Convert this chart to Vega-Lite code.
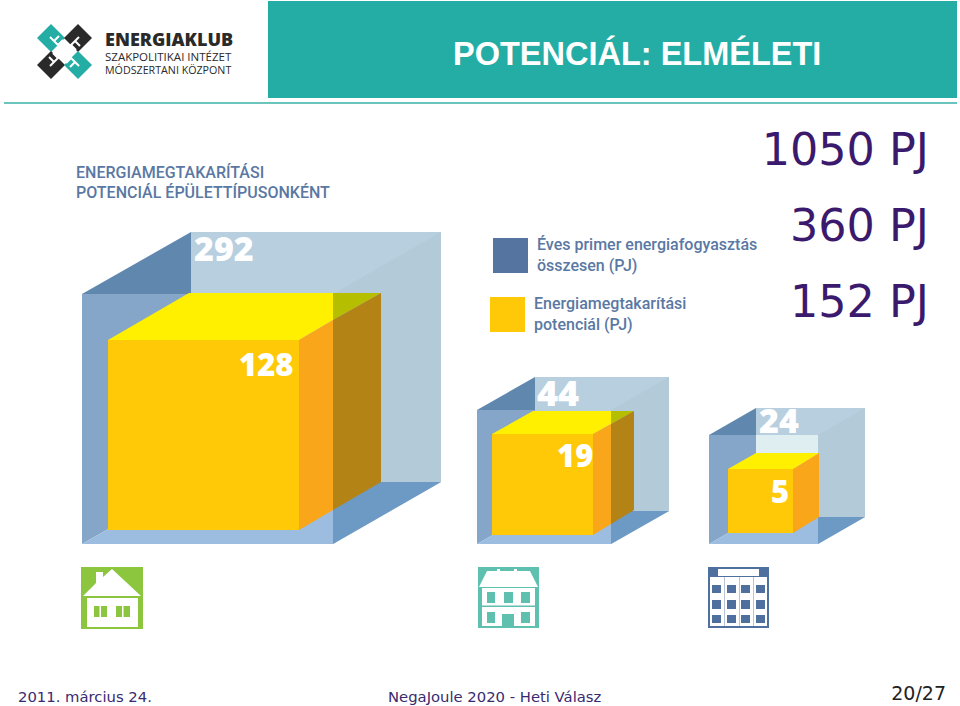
{"$schema":"https://vega.github.io/schema/vega-lite/v6.json","width":960,"height":706,"padding":0,"autosize":{"type":"fit","contains":"padding"},"background":"#ffffff","view":{"stroke":null},
"datasets":{
"under":[
{"part":"band","x":268,"x2":957,"y":1,"y2":98},
{"part":"rule","x":4,"x2":957,"y":102,"y2":104},
{"part":"green","x":81,"x2":143,"y":567,"y2":629},
{"part":"teal","x":478,"x2":539,"y":567,"y2":628},
{"part":"navy","x":708,"x2":769,"y":567,"y2":628}
],
"cuts":[
{"s":"a1","part":"white","i":0,"x":50,"y":37},{"s":"a1","part":"white","i":1,"x":62,"y":49},
{"s":"a2","part":"white","i":0,"x":54,"y":41},{"s":"a2","part":"white","i":1,"x":59,"y":36},
{"s":"a3","part":"white","i":0,"x":58,"y":45},{"s":"a3","part":"white","i":1,"x":63,"y":40},
{"s":"b1","part":"white","i":0,"x":79,"y":37},{"s":"b1","part":"white","i":1,"x":67,"y":49},
{"s":"b2","part":"white","i":0,"x":75,"y":41},{"s":"b2","part":"white","i":1,"x":80,"y":46},
{"s":"b3","part":"white","i":0,"x":71,"y":45},{"s":"b3","part":"white","i":1,"x":76,"y":50},
{"s":"c1","part":"white","i":0,"x":79,"y":66},{"s":"c1","part":"white","i":1,"x":67,"y":54},
{"s":"c2","part":"white","i":0,"x":75,"y":62},{"s":"c2","part":"white","i":1,"x":70,"y":67},
{"s":"c3","part":"white","i":0,"x":71,"y":58},{"s":"c3","part":"white","i":1,"x":66,"y":63},
{"s":"d1","part":"white","i":0,"x":50,"y":66},{"s":"d1","part":"white","i":1,"x":62,"y":54},
{"s":"d2","part":"white","i":0,"x":54,"y":62},{"s":"d2","part":"white","i":1,"x":49,"y":57},
{"s":"d3","part":"white","i":0,"x":58,"y":58},{"s":"d3","part":"white","i":1,"x":53,"y":53}
],
"poly":[
{"s":"l1","part":"band","i":0,"x":37,"y":38},{"s":"l1","part":"band","i":1,"x":51,"y":24},{"s":"l1","part":"band","i":2,"x":65,"y":38},{"s":"l1","part":"band","i":3,"x":51,"y":52},
{"s":"l2","part":"ink","i":0,"x":64,"y":38},{"s":"l2","part":"ink","i":1,"x":78,"y":24},{"s":"l2","part":"ink","i":2,"x":92,"y":38},{"s":"l2","part":"ink","i":3,"x":78,"y":52},
{"s":"l3","part":"ink","i":0,"x":37,"y":65},{"s":"l3","part":"ink","i":1,"x":51,"y":51},{"s":"l3","part":"ink","i":2,"x":65,"y":65},{"s":"l3","part":"ink","i":3,"x":51,"y":79},
{"s":"l4","part":"band","i":0,"x":64,"y":65},{"s":"l4","part":"band","i":1,"x":78,"y":51},{"s":"l4","part":"band","i":2,"x":92,"y":65},{"s":"l4","part":"band","i":3,"x":78,"y":79},

{"s":"b1","part":"back","i":0,"x":191,"y":232},{"s":"b1","part":"back","i":1,"x":441,"y":232},{"s":"b1","part":"back","i":2,"x":441,"y":482},{"s":"b1","part":"back","i":3,"x":191,"y":482},
{"s":"b2","part":"side","i":0,"x":333,"y":294},{"s":"b2","part":"side","i":1,"x":441,"y":232},{"s":"b2","part":"side","i":2,"x":441,"y":482},{"s":"b2","part":"side","i":3,"x":333,"y":544},
{"s":"b3","part":"dark","i":0,"x":82,"y":294},{"s":"b3","part":"dark","i":1,"x":191,"y":232},{"s":"b3","part":"dark","i":2,"x":191,"y":294},
{"s":"b4","part":"left","i":0,"x":82,"y":294},{"s":"b4","part":"left","i":1,"x":191,"y":294},{"s":"b4","part":"left","i":2,"x":191,"y":482},{"s":"b4","part":"left","i":3,"x":82,"y":544},
{"s":"b5","part":"floor","i":0,"x":82,"y":544},{"s":"b5","part":"floor","i":1,"x":191,"y":482},{"s":"b5","part":"floor","i":2,"x":333,"y":482},{"s":"b5","part":"floor","i":3,"x":333,"y":544},
{"s":"b6","part":"floorR","i":0,"x":333,"y":544},{"s":"b6","part":"floorR","i":1,"x":333,"y":482},{"s":"b6","part":"floorR","i":2,"x":441,"y":482},
{"s":"b7","part":"front","i":0,"x":108,"y":340},{"s":"b7","part":"front","i":1,"x":299,"y":340},{"s":"b7","part":"front","i":2,"x":299,"y":530},{"s":"b7","part":"front","i":3,"x":108,"y":530},
{"s":"b8","part":"top","i":0,"x":108,"y":340},{"s":"b8","part":"top","i":1,"x":189,"y":293},{"s":"b8","part":"top","i":2,"x":333,"y":293},{"s":"b8","part":"top","i":3,"x":333,"y":320},{"s":"b8","part":"top","i":4,"x":299,"y":340},
{"s":"b9","part":"olive","i":0,"x":333,"y":293},{"s":"b9","part":"olive","i":1,"x":381,"y":293},{"s":"b9","part":"olive","i":2,"x":333,"y":320},
{"s":"b10","part":"orange","i":0,"x":299,"y":340},{"s":"b10","part":"orange","i":1,"x":333,"y":320},{"s":"b10","part":"orange","i":2,"x":333,"y":510},{"s":"b10","part":"orange","i":3,"x":299,"y":530},
{"s":"b11","part":"brown","i":0,"x":333,"y":320},{"s":"b11","part":"brown","i":1,"x":381,"y":293},{"s":"b11","part":"brown","i":2,"x":381,"y":482},{"s":"b11","part":"brown","i":3,"x":333,"y":510},

{"s":"m1","part":"back","i":0,"x":535,"y":377},{"s":"m1","part":"back","i":1,"x":669,"y":377},{"s":"m1","part":"back","i":2,"x":669,"y":511},{"s":"m1","part":"back","i":3,"x":535,"y":511},
{"s":"m2","part":"side","i":0,"x":611,"y":410},{"s":"m2","part":"side","i":1,"x":669,"y":377},{"s":"m2","part":"side","i":2,"x":669,"y":511},{"s":"m2","part":"side","i":3,"x":611,"y":544},
{"s":"m3","part":"dark","i":0,"x":477,"y":410},{"s":"m3","part":"dark","i":1,"x":535,"y":377},{"s":"m3","part":"dark","i":2,"x":535,"y":410},
{"s":"m4","part":"left","i":0,"x":477,"y":410},{"s":"m4","part":"left","i":1,"x":535,"y":410},{"s":"m4","part":"left","i":2,"x":535,"y":511},{"s":"m4","part":"left","i":3,"x":477,"y":544},
{"s":"m5","part":"floor","i":0,"x":477,"y":544},{"s":"m5","part":"floor","i":1,"x":535,"y":511},{"s":"m5","part":"floor","i":2,"x":611,"y":511},{"s":"m5","part":"floor","i":3,"x":611,"y":544},
{"s":"m6","part":"floorR","i":0,"x":611,"y":544},{"s":"m6","part":"floorR","i":1,"x":611,"y":511},{"s":"m6","part":"floorR","i":2,"x":669,"y":511},
{"s":"m7","part":"front","i":0,"x":492,"y":434},{"s":"m7","part":"front","i":1,"x":593,"y":434},{"s":"m7","part":"front","i":2,"x":593,"y":535},{"s":"m7","part":"front","i":3,"x":492,"y":535},
{"s":"m8","part":"top","i":0,"x":492,"y":434},{"s":"m8","part":"top","i":1,"x":533,"y":411},{"s":"m8","part":"top","i":2,"x":611,"y":411},{"s":"m8","part":"top","i":3,"x":611,"y":424},{"s":"m8","part":"top","i":4,"x":593,"y":434},
{"s":"m9","part":"olive","i":0,"x":611,"y":411},{"s":"m9","part":"olive","i":1,"x":634,"y":411},{"s":"m9","part":"olive","i":2,"x":611,"y":424},
{"s":"m10","part":"orange","i":0,"x":593,"y":434},{"s":"m10","part":"orange","i":1,"x":611,"y":424},{"s":"m10","part":"orange","i":2,"x":611,"y":524},{"s":"m10","part":"orange","i":3,"x":593,"y":535},
{"s":"m11","part":"brown","i":0,"x":611,"y":424},{"s":"m11","part":"brown","i":1,"x":634,"y":411},{"s":"m11","part":"brown","i":2,"x":634,"y":510},{"s":"m11","part":"brown","i":3,"x":611,"y":524},

{"s":"k1","part":"back","i":0,"x":756,"y":408},{"s":"k1","part":"back","i":1,"x":865,"y":408},{"s":"k1","part":"back","i":2,"x":865,"y":517},{"s":"k1","part":"back","i":3,"x":756,"y":517},
{"s":"k2","part":"side","i":0,"x":818,"y":435},{"s":"k2","part":"side","i":1,"x":865,"y":408},{"s":"k2","part":"side","i":2,"x":865,"y":517},{"s":"k2","part":"side","i":3,"x":818,"y":544},
{"s":"k3","part":"dark","i":0,"x":709,"y":435},{"s":"k3","part":"dark","i":1,"x":756,"y":408},{"s":"k3","part":"dark","i":2,"x":756,"y":435},
{"s":"k4","part":"left","i":0,"x":709,"y":435},{"s":"k4","part":"left","i":1,"x":756,"y":435},{"s":"k4","part":"left","i":2,"x":756,"y":517},{"s":"k4","part":"left","i":3,"x":709,"y":544},
{"s":"k5","part":"floor","i":0,"x":709,"y":544},{"s":"k5","part":"floor","i":1,"x":756,"y":517},{"s":"k5","part":"floor","i":2,"x":818,"y":517},{"s":"k5","part":"floor","i":3,"x":818,"y":544},
{"s":"k6","part":"floorR","i":0,"x":818,"y":544},{"s":"k6","part":"floorR","i":1,"x":818,"y":517},{"s":"k6","part":"floorR","i":2,"x":865,"y":517},
{"s":"k12","part":"pale","i":0,"x":756,"y":435},{"s":"k12","part":"pale","i":1,"x":818,"y":435},{"s":"k12","part":"pale","i":2,"x":818,"y":517},{"s":"k12","part":"pale","i":3,"x":756,"y":517},
{"s":"k7","part":"front","i":0,"x":728,"y":469},{"s":"k7","part":"front","i":1,"x":793,"y":469},{"s":"k7","part":"front","i":2,"x":793,"y":533},{"s":"k7","part":"front","i":3,"x":728,"y":533},
{"s":"k8","part":"top","i":0,"x":728,"y":469},{"s":"k8","part":"top","i":1,"x":756,"y":453},{"s":"k8","part":"top","i":2,"x":819,"y":453},{"s":"k8","part":"top","i":3,"x":793,"y":469},
{"s":"k10","part":"orange","i":0,"x":793,"y":469},{"s":"k10","part":"orange","i":1,"x":819,"y":453},{"s":"k10","part":"orange","i":2,"x":819,"y":517},{"s":"k10","part":"orange","i":3,"x":793,"y":533},

{"s":"h1","part":"paper","i":0,"x":83,"y":596},{"s":"h1","part":"paper","i":1,"x":96,"y":583},{"s":"h1","part":"paper","i":2,"x":96,"y":572},{"s":"h1","part":"paper","i":3,"x":103,"y":572},{"s":"h1","part":"paper","i":4,"x":103,"y":577},{"s":"h1","part":"paper","i":5,"x":112,"y":569},{"s":"h1","part":"paper","i":6,"x":141,"y":596},
{"s":"h2","part":"paper","i":0,"x":479,"y":587},{"s":"h2","part":"paper","i":1,"x":487,"y":571},{"s":"h2","part":"paper","i":2,"x":497,"y":571},{"s":"h2","part":"paper","i":3,"x":497,"y":569},{"s":"h2","part":"paper","i":4,"x":500,"y":569},{"s":"h2","part":"paper","i":5,"x":500,"y":571},{"s":"h2","part":"paper","i":6,"x":514,"y":571},{"s":"h2","part":"paper","i":7,"x":514,"y":569},{"s":"h2","part":"paper","i":8,"x":517,"y":569},{"s":"h2","part":"paper","i":9,"x":517,"y":571},{"s":"h2","part":"paper","i":10,"x":530,"y":571},{"s":"h2","part":"paper","i":11,"x":538,"y":587}
],
"over":[
{"part":"navyleg","x":493,"x2":528,"y":238,"y2":273},
{"part":"front","x":490,"x2":525,"y":297,"y2":332},
{"part":"paper","x":87,"x2":138,"y":598,"y2":627},
{"part":"green","x":94,"x2":99.5,"y":606,"y2":617},{"part":"green","x":101,"x2":107,"y":606,"y2":617},
{"part":"green","x":116,"x2":122,"y":606,"y2":617},{"part":"green","x":123.5,"x2":130,"y":606,"y2":617},
{"part":"paper","x":482,"x2":535,"y":588,"y2":626},
{"part":"teal","x":482,"x2":535,"y":605.5,"y2":607},
{"part":"teal","x":487,"x2":495,"y":592,"y2":603},{"part":"teal","x":504,"x2":513,"y":592,"y2":603},{"part":"teal","x":521,"x2":530,"y":592,"y2":603},
{"part":"teal","x":487,"x2":495,"y":612,"y2":623},{"part":"teal","x":521,"x2":530,"y":612,"y2":623},{"part":"teal","x":502,"x2":514,"y":614,"y2":628},
{"part":"paper","x":710,"x2":767,"y":577,"y2":626},
{"part":"paper","x":718,"x2":759,"y":569,"y2":576},
{"part":"line","x":724,"x2":725,"y":577,"y2":626},{"part":"line","x":739,"x2":740,"y":577,"y2":626},{"part":"line","x":753,"x2":754,"y":577,"y2":626},
{"part":"navy","x":712,"x2":721,"y":585,"y2":593},{"part":"navy","x":727,"x2":736,"y":585,"y2":593},{"part":"navy","x":741,"x2":750,"y":585,"y2":593},{"part":"navy","x":756,"x2":765,"y":585,"y2":593},
{"part":"navy","x":712,"x2":721,"y":600,"y2":609},{"part":"navy","x":727,"x2":736,"y":600,"y2":609},{"part":"navy","x":741,"x2":750,"y":600,"y2":609},{"part":"navy","x":756,"x2":765,"y":600,"y2":609},
{"part":"navy","x":712,"x2":721,"y":615,"y2":623},{"part":"navy","x":727,"x2":736,"y":615,"y2":623},{"part":"navy","x":741,"x2":750,"y":615,"y2":623},{"part":"navy","x":756,"x2":765,"y":615,"y2":623}
]
},
"encoding":{
"x":{"field":"x","type":"quantitative","scale":{"domain":[0,960],"nice":false,"zero":false},"axis":null},
"y":{"field":"y","type":"quantitative","scale":{"domain":[706,0],"nice":false,"zero":false},"axis":null},
"fill":{"field":"part","type":"nominal","legend":null,"scale":{
"domain":["band","rule","green","teal","navy","navyleg","ink","back","side","dark","left","floor","floorR","pale","front","top","olive","orange","brown","paper","line","white","purple","slate","foot","page"],
"range":["#24ada5","#6cc5bd","#8cc63f","#5fc0b0","#4f6f9f","#55749f","#2a2a2a","#b8cfdf","#b3cad9","#6088ae","#85a6c8","#9cbde0","#6d9ac4","#dfeef1","#ffc907","#fff000","#b5bf00","#faa61a","#b38315","#ffffff","#b9c4d6","#ffffff","#3b1a6e","#5a78a3","#3a2a70","#222222"]}}
},
"layer":[
{"data":{"name":"under"},"mark":{"type":"rect"},"encoding":{"x2":{"field":"x2"},"y2":{"field":"y2"}}},
{"data":{"name":"poly"},"mark":{"type":"line","interpolate":"linear-closed","strokeWidth":0,"stroke":null},"encoding":{"detail":{"field":"s"},"order":{"field":"i"}}},
{"data":{"name":"cuts"},"mark":{"type":"line","stroke":"#ffffff","strokeWidth":2},"encoding":{"fill":{"value":null},"detail":{"field":"s"},"order":{"field":"i"}}},
{"data":{"name":"over"},"mark":{"type":"rect"},"encoding":{"x2":{"field":"x2"},"y2":{"field":"y2"}}},
{"data":{"values":[{"t":"POTENCIÁL: ELMÉLETI","part":"white","x":453,"y":65}]},"mark":{"type":"text","align":"left","baseline":"alphabetic","font":"Liberation Sans","fontWeight":"bold","fontSize":32.5},"encoding":{"text":{"field":"t"}}},
{"data":{"values":[{"t":"1050 PJ","part":"purple","x":929,"y":165},{"t":"360 PJ","part":"purple","x":929,"y":241},{"t":"152 PJ","part":"purple","x":929,"y":317}]},"mark":{"type":"text","align":"right","baseline":"alphabetic","font":"DejaVu Sans","fontSize":44.5},"encoding":{"text":{"field":"t"}}},
{"data":{"values":[{"t":"2011. március 24.","part":"foot","x":18,"y":702},{"t":"NegaJoule 2020 - Heti Válasz","part":"foot","x":388,"y":702}]},"mark":{"type":"text","align":"left","baseline":"alphabetic","font":"DejaVu Sans","fontSize":14.8},"encoding":{"text":{"field":"t"}}},
{"data":{"values":[{"t":"20/27","part":"page","x":946,"y":700}]},"mark":{"type":"text","align":"right","baseline":"alphabetic","font":"DejaVu Sans","fontSize":19},"encoding":{"text":{"field":"t"}}},
{"data":{"values":[{"t":"ENERGIAKLUB","part":"ink","x":105,"y":45.5}]},"mark":{"type":"text","align":"left","baseline":"alphabetic","font":"Open Sans","fontWeight":800,"fontSize":18},"encoding":{"text":{"field":"t"}}},
{"data":{"values":[{"t":"SZAKPOLITIKAI INTÉZET","part":"ink","x":105,"y":61}]},"mark":{"type":"text","align":"left","baseline":"alphabetic","font":"Open Sans","fontSize":11.5},"encoding":{"text":{"field":"t"}}},
{"data":{"values":[{"t":"MÓDSZERTANI KÖZPONT","part":"ink","x":105,"y":74}]},"mark":{"type":"text","align":"left","baseline":"alphabetic","font":"Open Sans","fontSize":10.7},"encoding":{"text":{"field":"t"}}},
{"data":{"values":[{"t":"ENERGIAMEGTAKARÍTÁSI","part":"slate","x":76,"y":178},{"t":"POTENCIÁL ÉPÜLETTÍPUSONKÉNT","part":"slate","x":76,"y":198}]},"mark":{"type":"text","align":"left","baseline":"alphabetic","font":"Roboto","fontWeight":500,"fontSize":16},"encoding":{"text":{"field":"t"}}},
{"data":{"values":[{"t":"Éves primer energiafogyasztás","part":"slate","x":537,"y":250},{"t":"összesen (PJ)","part":"slate","x":537,"y":271},{"t":"Energiamegtakarítási","part":"slate","x":534,"y":309},{"t":"potenciál (PJ)","part":"slate","x":534,"y":330}]},"mark":{"type":"text","align":"left","baseline":"alphabetic","font":"Roboto","fontWeight":500,"fontSize":16},"encoding":{"text":{"field":"t"}}},
{"data":{"values":[{"t":"292","part":"white","x":194,"y":261},{"t":"24","part":"white","x":759,"y":433}]},"mark":{"type":"text","align":"left","baseline":"alphabetic","font":"Open Sans","fontWeight":800,"fontSize":34},"encoding":{"text":{"field":"t"}}},
{"data":{"values":[{"t":"44","part":"white","x":537,"y":406}]},"mark":{"type":"text","align":"left","baseline":"alphabetic","font":"Open Sans","fontWeight":800,"fontSize":36},"encoding":{"text":{"field":"t"}}},
{"data":{"values":[{"t":"128","part":"white","x":239,"y":376},{"t":"19","part":"white","x":557,"y":467},{"t":"5","part":"white","x":771,"y":503}]},"mark":{"type":"text","align":"left","baseline":"alphabetic","font":"Open Sans","fontWeight":800,"fontSize":31},"encoding":{"text":{"field":"t"}}}
]}
